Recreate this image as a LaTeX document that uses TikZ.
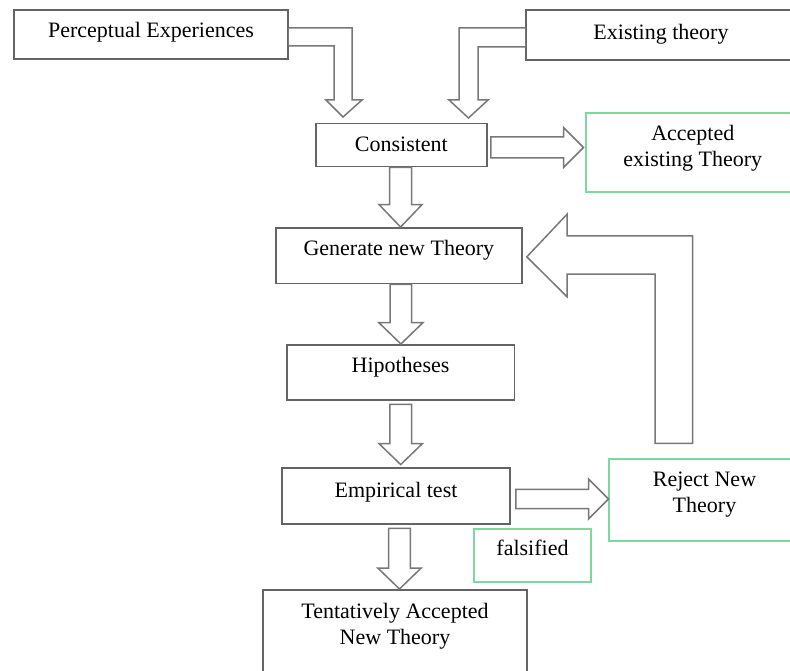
\documentclass[tikz,border=0pt]{standalone}
\usepackage{fontspec}
\setmainfont{Liberation Serif}
\usetikzlibrary{calc}
\definecolor{boxgray}{RGB}{100,100,100}
\definecolor{arrgray}{RGB}{120,120,120}
\definecolor{boxgreen}{RGB}{125,215,160}
\tikzset{
  box/.style={draw=boxgray, line width=1.6pt, rectangle, inner sep=0pt, align=center,
    anchor=north, font=\fontsize{22}{26}\selectfont},
  gbox/.style={box, draw=boxgreen},
  barrow/.style={draw=arrgray, line width=1.5pt, fill=white, line join=miter},
}
% vertical block arrow: #1 start point, #2 tip point, #3 half shaft, #4 half head, #5 head length
\newcommand\vblk[5]{\draw[barrow] let \p1=(#1), \p2=(#2) in
  (\x2-#3pt,\y1) -- (\x2-#3pt,\y2+#5pt) -- (\x2-#4pt,\y2+#5pt) -- (\x2,\y2)
  -- (\x2+#4pt,\y2+#5pt) -- (\x2+#3pt,\y2+#5pt) -- (\x2+#3pt,\y1) -- cycle;}
% horizontal block arrow pointing right
\newcommand\hblk[5]{\draw[barrow] let \p1=(#1), \p2=(#2) in
  (\x1,\y2+#3pt) -- (\x2-#5pt,\y2+#3pt) -- (\x2-#5pt,\y2+#4pt) -- (\x2,\y2)
  -- (\x2-#5pt,\y2-#4pt) -- (\x2-#5pt,\y2-#3pt) -- (\x1,\y2-#3pt) -- cycle;}
\begin{document}
\begin{tikzpicture}[x=1pt,y=-1pt]
\useasboundingbox (0,0) rectangle (790,671);
\clip (0,0) rectangle (790,671);

\node[box, minimum width=274pt, text height=27.7pt, text depth=21.8pt] (perc) at (151,9) {Perceptual Experiences};
\node[box, minimum width=270pt, text height=29.3pt, text depth=20.7pt] (exist) at (661,9) {Existing theory};
\node[box, minimum width=170.7pt, text height=27.6pt, text depth=15.4pt] (cons) at (401.35,122.7) {Consistent};
\node[gbox, minimum width=213.6pt, text height=53.7pt, text depth=25pt] (acc) at (692.8,112.3) {Accepted\\existing Theory};
\node[box, minimum width=245.7pt, text height=27.8pt, text depth=27.9pt] (gen) at (398.85,227) {Generate new Theory};
\node[box, minimum width=227.6pt, text height=27.7pt, text depth=27.6pt] (hip) at (400.5,344) {Hipotheses};
\node[box, minimum width=228pt, text height=29.4pt, text depth=26.6pt] (emp) at (396,467.3) {Empirical test};
\node[gbox, minimum width=191pt, text height=53.7pt, text depth=28pt] (rej) at (704.5,458.3) {Reject New\\Theory};
\node[gbox, minimum width=117pt, text height=27pt, text depth=26pt] (fals) at (532.5,528) {falsified};
\node[box, minimum width=264pt, text height=54.3pt, text depth=46.7pt] (tent) at (395,589) {Tentatively Accepted\\New Theory};

% bent arrows into Consistent
\draw[barrow] (perc.east |- 0,28) -- (352,28) -- (352,100) -- (362,100) -- (343,117)
  -- (326,100) -- (334,100) -- (334,46) -- (perc.east |- 0,46);
\draw[barrow] (exist.west |- 0,28) -- (459,28) -- (459,100) -- (449,100) -- (468.5,118)
  -- (488,100) -- (478,100) -- (478,47) -- (exist.west |- 0,47);

% straight block arrows
\hblk{[xshift=3.3pt]cons.east}{[xshift=-1.7pt,yshift=5pt]acc.west}{10.5}{20}{20}
\vblk{cons.south}{[xshift=1.7pt]gen.north}{11}{21.5}{22.4}
\vblk{gen.south}{[xshift=0.4pt]hip.north}{10.8}{22}{21.3}
\vblk{[yshift=-3.4pt]hip.south}{[xshift=4.7pt,yshift=2.7pt]emp.north}{10.8}{21.7}{21}
\hblk{[xshift=5pt]emp.east}{[xshift=0.3pt,yshift=1pt]rej.west}{9.7}{20}{20}
\vblk{[yshift=-3.4pt]emp.south}{[xshift=4.5pt]tent.north}{10.8}{21.7}{21}

% return arrow from Reject back to Generate
\draw[barrow] ([xshift=4.3pt,yshift=-1.2pt]gen.east) -- (567,214.3) -- (567,236) -- (692.7,236)
  -- (692.7,443.3) -- (655,443.3) -- (655,274) -- (567,274) -- (567,296.7) -- cycle;
\end{tikzpicture}
\end{document}
